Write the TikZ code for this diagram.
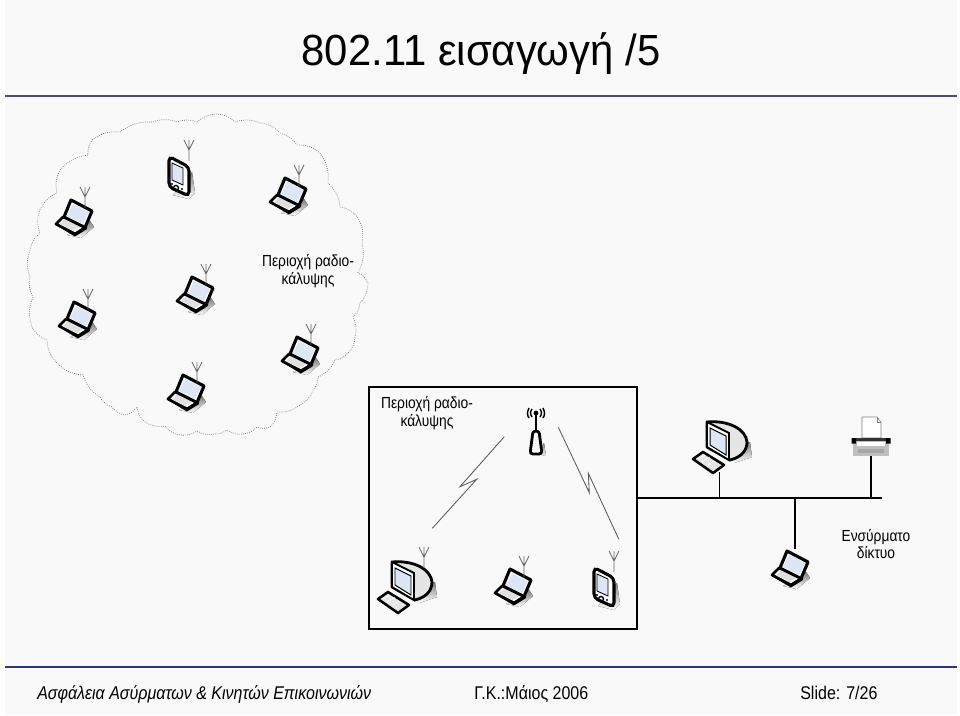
\documentclass[tikz,border=0pt]{standalone}
\usepackage{fontspec}
\setmainfont{Liberation Sans}
\newfontfamily\titlefont[FakeStretch=0.96]{Liberation Sans}
\newfontfamily\footfont[FakeStretch=0.87]{Liberation Sans}
\newfontfamily\areafont[FakeStretch=0.86]{Liberation Sans}
\definecolor{pagebg}{HTML}{F9F9F9}
\definecolor{rulecol}{HTML}{4A4A80}
\definecolor{footcol}{HTML}{2F3580}
\definecolor{glass}{HTML}{DCE6F4}
\definecolor{shade}{HTML}{ECECEC}
\tikzset{
  antenna/.pic={
    \draw[gray!80!black, line width=0.55pt] (0,0) -- (0,-11) (-5,-21) -- (0,-11) -- (5,-21) (0,-11) -- (0,-21);
  },
  laptop/.pic={
    \fill[shade] (-6,18) -- (8,21) -- (21,10) -- (17,4) -- cycle;
    \draw[line width=1.9pt, line join=round, fill=white] (-10,0) -- (-17,7) -- (2,17) -- (13,10) -- cycle;
    \fill[black] (-18,7.5) -- (2,19.5) -- (14,12) -- (13,9) -- (2,15.5) -- (-18,6) -- cycle;
    \fill[gray!25] (-13,7) -- (-8,2) -- (7,10) -- (1,14) -- cycle;
    \draw[line width=2.2pt, line join=round, fill=white] (-2,-17) -- (19,-6) -- (12,10.5) -- (-9,0) -- cycle;
    \fill[glass] (0,-13) -- (16,-5) -- (10,7) -- (-6,-1) -- cycle;
    \coordinate (-ant) at (12,-9);
  },
  pda/.pic={
    \fill[shade] (-6,19) -- (10,23) -- (16,17) -- (13,-4) -- cycle;
    \draw[line width=2.2pt, rounded corners=3pt, fill=white] (-10,-19.5) -- (10,-9) -- (10,20) -- (-10,11) -- cycle;
    \draw[line width=0.6pt, fill=glass] (-7,-13) -- (4,-8) -- (4,9) -- (-7,4) -- cycle;
    \draw[line width=1pt] (-3,12) circle [radius=2.5];
    \fill (-7,8) circle [radius=1.2] (3,13) circle [radius=1.2];
    \coordinate (-ant) at (10,-15);
  },
  desktop/.pic={
    \fill[shade] (14,16) -- (32,10) -- (30,-5) -- (14,0) -- cycle;
    \draw[line width=2pt, line join=round, fill=gray!20] (-13,-25) .. controls (8,-27) and (26,-18) .. (27,-5)
      .. controls (27,3) and (22,10) .. (10,13) -- (-13,0) -- cycle;
    \draw[line width=1.3pt, fill=white] (-13,-25) -- (9,-14) -- (9,13) -- (-13,0) -- cycle;
    \draw[line width=0.7pt, fill=glass] (-10,-19) -- (6,-11) -- (6,8) -- (-10,-2) -- cycle;
    \draw[line width=1.8pt, line join=round, fill=gray!20] (-27,12) -- (-17,5) -- (4,18) -- (-7,26) -- cycle;
    \draw[white, line width=0.4pt] (-22,12) -- (-15,8) (-18,15) -- (-10,10) (-12,18) -- (-6,14);
    \coordinate (-ant) at (19,-19);
  },
  printer/.pic={
    \draw[gray, line width=0.4pt, fill=white] (-9,0) -- (-9,-21) -- (6,-21) -- (10,-16) -- (10,0) -- cycle;
    \draw[gray, line width=0.4pt] (6,-21) -- (6,-16) -- (10,-16);
    \fill[gray!50] (-18,1) rectangle (18,18);
    \fill[black!80] (-15,0) rectangle (15,2.5);
    \fill[black] (-19.5,0) rectangle (-15,5.5) (15,0) rectangle (19.5,5.5);
    \fill[white] (-14,4) rectangle (14,8);
    \fill[gray!70] (-13,11) rectangle (13,15);
    \coordinate (-base) at (0,18);
  },
  accesspt/.pic={
    \fill[shade] (2,1) -- (10,3) -- (8,-10) -- cycle;
    \draw[line width=2pt, fill=white, rounded corners=2pt] (-6,1) -- (-3,-22) -- (3,-22) -- (6,1) -- cycle;
    \draw[line width=1.9pt] (0,-22) -- (0,-38);
    \fill (0,-40) circle [radius=2.4];
    \draw[line width=1pt] (-4,-44) .. controls (-6,-41) and (-6,-39) .. (-4,-36);
    \draw[line width=1pt] (4,-44) .. controls (6,-41) and (6,-39) .. (4,-36);
    \draw[line width=1pt] (-7,-45) .. controls (-9,-41) and (-9,-38) .. (-7,-35);
    \draw[line width=1pt] (7,-45) .. controls (9,-41) and (9,-38) .. (7,-35);
  },
  cloudedge/.style={gray!85!black, line width=0.5pt, densely dotted},
  radiolink/.style={gray!70!black, line width=0.6pt},
  wire/.style={line width=1.4pt},
  drop/.style={line width=0.9pt},
  areatext/.style={align=center, font=\areafont\fontsize{11.4pt}{12.4pt}\selectfont, inner sep=0pt},
  foot/.style={font=\footfont\fontsize{13.1pt}{14pt}\selectfont, anchor=base west, inner sep=0pt}
}
\begin{document}
\begin{tikzpicture}[x=0.025cm,y=-0.025cm]
  \useasboundingbox (0,0) rectangle (960,716);
  \fill[white] (0,0) rectangle (960,716);
  \fill[pagebg] (5,0) rectangle (957,715);

  % title and footer
  \node[inner sep=0pt, anchor=base] (title) at (481,66) {\titlefont\fontsize{31pt}{34pt}\selectfont 802.11 εισαγωγή /5};
  \fill[rulecol] (5,95) rectangle (957,97.5);
  \fill[footcol] (5,665.5) rectangle (957,668);
  \node[foot] (course) at (37,699) {\itshape Ασφάλεια Ασύρματων \& Κινητών Επικοινωνιών};
  \node[foot] (date) at (474,699) {Γ.Κ.:Μάιος 2006};
  \node[foot] (slide) at (800,699) {Slide: 7/26};

  % ad hoc area
  \draw[cloudedge] (197,122) foreach \x/\y in {217/114,235/122,260/123,280/133,297/145,320/153,328/183,340/207,358/218,362/243,358/273,368/283,360/303,353/317,355/337,348/353,335/360,318/377,313/390,300/405,277/412,270/427,257/427,243/434,227/430,213/434,197/431,180/435,165/426,145/422,137/407,125/415,112/407,100/397,83/375,57/363,47/340,32/327,33/297,30/277,30/250,40/233,40/210,57/193,60/170,88/155,92/140,120/132,153/122,177/122,197/122} { to[bend left=20] (\x,\y) };

  \foreach \name/\x/\y in {lapA/73/217,lapB/76/319,lapC/194/294,lapD/185/392,lapE/299/354,lapF/287/195,lapG/512/586}{
    \pic (\name) at (\x,\y) {laptop};
    \pic at (\name-ant) {antenna};
  }
  \pic (pdaA) at (179,176) {pda};
  \pic at (pdaA-ant) {antenna};
  \node[areatext] (adhoc) at (308,271) {Περιοχή ραδιο-\\κάλυψης};

  % cell with access point
  \node[draw, line width=1.1pt, minimum width=6.69cm, minimum height=6.06cm, inner sep=0pt] (cell) at (503,508) {};
  \node[areatext] (celltext) at (427,413) {Περιοχή ραδιο-\\κάλυψης};
  \pic (ap) at (536,453) {accesspt};
  \pic (deskA) at (405,587) {desktop};
  \pic at (deskA-ant) {antenna};
  \pic (pdaB) at (604,587) {pda};
  \pic at (pdaB-ant) {antenna};

  \coordinate (linkAa) at (504.3,436.7);
  \coordinate (linkAb) at (432.3,528.3);
  \coordinate (linkBa) at (558.3,427.3);
  \coordinate (linkBb) at (618.7,539);
  \draw[radiolink] (linkAa) -- (460,486.7) -- (476.7,479.3) -- (linkAb);
  \draw[radiolink] (linkBa) -- (589.3,492.7) -- (588.3,473.3) -- (linkBb);

  % wired side
  \pic (deskB) at (720,447) {desktop};
  \pic (lapH) at (789,568) {laptop};
  \pic (prn) at (871,438) {printer};
  \coordinate (busend) at (882,498);
  \draw[wire] (cell.east |- busend) -- (busend);
  \draw[drop] (719.5,472) -- (719.5,498);
  \draw[drop] (prn-base) -- (prn-base |- busend);
  \draw[drop] (795,498) -- (795,549);
  \node[areatext] (wired) at (876,544) {Ενσύρματο\\δίκτυο};
\end{tikzpicture}
\end{document}
